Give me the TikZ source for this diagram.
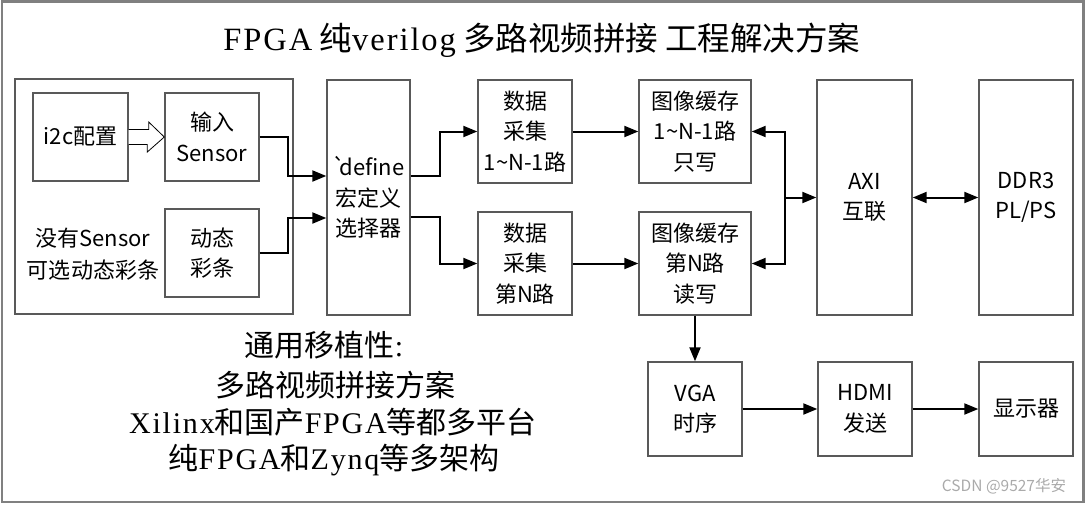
\documentclass[tikz,border=0pt]{standalone}
\usepackage{fontspec}
\setmainfont{Noto Sans CJK SC}[Ligatures=TeXOff]
\newfontfamily\lser{Liberation Serif}[LetterSpace=6]
\usetikzlibrary{arrows.meta}
\definecolor{boxgray}{RGB}{89,89,89}
\definecolor{framegray}{RGB}{128,128,128}
\definecolor{wmgray}{RGB}{170,170,170}
\tikzset{
  blk/.style={draw=boxgray, line width=1.4pt, fill=white, align=center, inner sep=0pt,
    font=\fontsize{22}{30.5}\selectfont},
  conn/.style={line width=2pt, -{Triangle[length=14pt,width=11pt]}},
  biconn/.style={line width=2pt, {Triangle[length=14pt,width=11pt]}-{Triangle[length=14pt,width=11pt]}},
  serifline/.style={font=\fontsize{30}{34}\selectfont, inner sep=0pt},
  hollow/.style={draw=black, line width=0.8pt, fill=white}
}
\begin{document}
\begin{tikzpicture}[x=1pt,y=-1pt]
\useasboundingbox (0,0) rectangle (1086,504);
\draw[framegray, line width=2.5pt] (2,1.5) rectangle (1083.5,502);
% title
\node[font=\fontsize{32.5}{36}\selectfont, inner sep=0pt] (title) at (542,40)
  {{\lser FPGA} 纯{\lser verilog} 多路视频拼接 工程解决方案};
% left group
\node[blk, minimum width=278pt, minimum height=235pt] (grp) at (154,196.5) {};
\node[blk, minimum width=95pt, minimum height=88pt] (i2c) at (80.5,137) {i2c配置};
\node[blk, minimum width=94pt, minimum height=88pt] (sens) at (212,137) {输入\\Sensor};
\node[blk, minimum width=94pt, minimum height=88pt] (bar) at (212,253) {动态\\彩条};
\node[align=center, inner sep=0pt, font=\fontsize{22}{32}\selectfont] (note) at (93,254) {没有Sensor\\可选动态彩条};
% hollow arrow
\draw[hollow] ([yshift=7.5pt]i2c.east) -- ++(20,0) -- ++(0,-7.5) -- (sens.west) -- ++(-17,15) -- ++(0,-7.5) -- ([yshift=-7.5pt]i2c.east);
% main blocks
\node[blk, minimum width=83pt, minimum height=235pt] (def) at (368.5,197.5) {`\kern-6.5pt define\\宏定义\\选择器};
\node[blk, minimum width=94pt, minimum height=103pt] (dc1) at (525,131.5) {数据\\采集\\1\string~N-1路};
\node[blk, minimum width=94pt, minimum height=103pt] (dcN) at (525,263.5) {数据\\采集\\第N路};
\node[blk, minimum width=112pt, minimum height=103pt] (buf1) at (695,131.5) {图像缓存\\1\string~N-1路\\只写};
\node[blk, minimum width=112pt, minimum height=103pt] (bufN) at (695,263.5) {图像缓存\\第N路\\读写};
\node[blk, minimum width=95pt, minimum height=235pt] (axi) at (864.5,197.5) {AXI\\互联};
\node[blk, minimum width=94pt, minimum height=235pt] (ddr) at (1026,197.5) {DDR3\\PL/PS};
\node[blk, minimum width=94pt, minimum height=94pt] (vga) at (695,409) {VGA\\时序};
\node[blk, minimum width=94pt, minimum height=94pt] (hdmi) at (865,409) {HDMI\\发送};
\node[blk, minimum width=94pt, minimum height=94pt] (disp) at (1026,409) {显示器};
% connectors
\draw[conn] (sens.east) -- ++(28,0) |- ([yshift=21.5pt]def.west);
\draw[conn] (bar.east) -- ++(28,0) |- ([yshift=-20.5pt]def.west);
\draw[conn] ([yshift=21.5pt]def.east) -- ++(29,0) |- (dc1.west);
\draw[conn] ([yshift=-19.5pt]def.east) -- ++(29,0) |- (dcN.west);
\draw[conn] (dc1.east) -- (buf1.west);
\draw[conn] (dcN.east) -- (bufN.west);
\coordinate (bj) at (785,197.5);
\draw[conn] (bj) |- (buf1.east);
\draw[conn] (bj) |- (bufN.east);
\draw[conn] (bj) -- (axi.west);
\draw[biconn] (axi.east) -- (ddr.west);
\draw[conn] (bufN.south) -- (vga.north);
\draw[conn] (vga.east) -- (hdmi.west);
\draw[conn] (hdmi.east) -- (disp.west);
% bottom text
\node[serifline] (t1) at (324,345) {通用移植性{\lser :}};
\node[serifline] (t2) at (335,385) {多路视频拼接方案};
\node[serifline] (t3) at (333,422) {{\lser Xilinx}和国产{\lser FPGA}等都多平台};
\node[serifline] (t4) at (334,460) {纯{\lser FPGA}和{\lser Zynq}等多架构};
% watermark
\node[text=wmgray, inner sep=0pt, font=\fontsize{15.5}{17}\selectfont] (wm) at (1004,486) {CSDN @9527华安};
\end{tikzpicture}
\end{document}
